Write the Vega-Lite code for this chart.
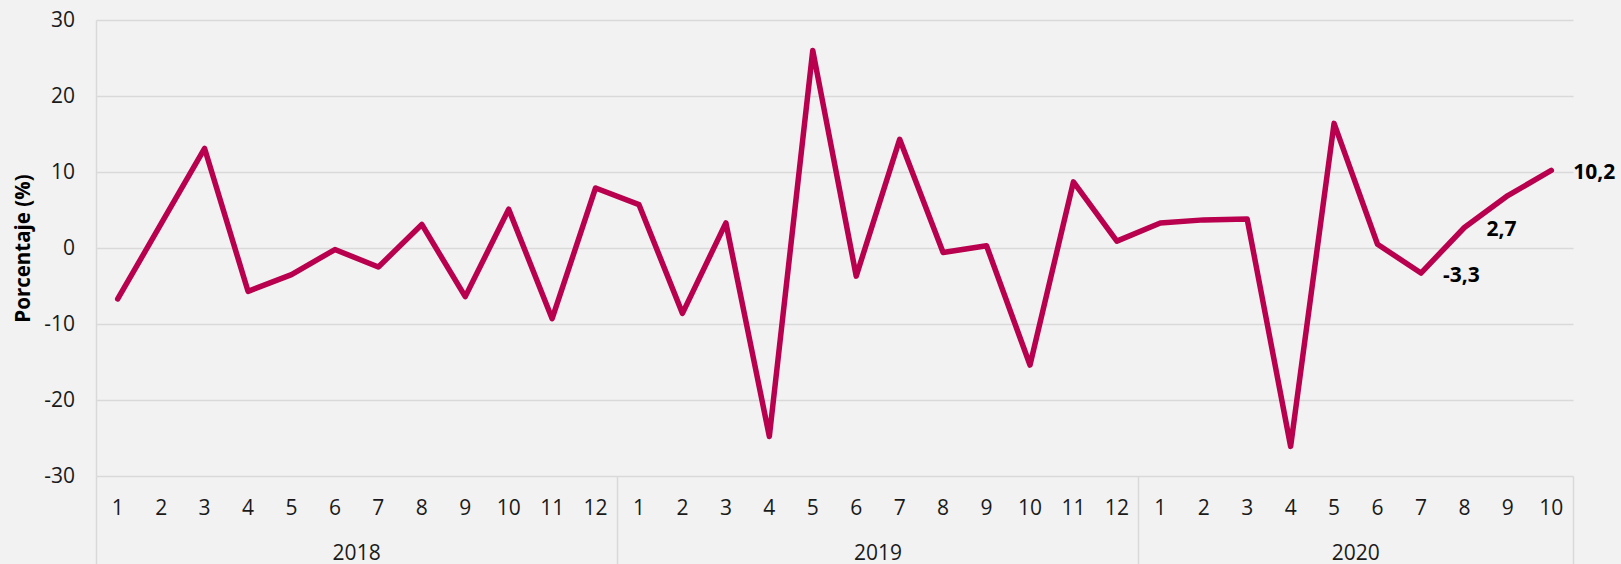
{
  "$schema": "https://vega.github.io/schema/vega-lite/v6.json",
  "autosize": {"type": "none"},
  "padding": {"left": 96, "top": 20, "right": 48, "bottom": 88},
  "width": 1477,
  "height": 456,
  "background": "#f2f2f2",
  "config": {
    "view": {"stroke": null},
    "font": "Open Sans",
    "locale": {"number": {"decimal": ",", "thousands": ".", "grouping": [3], "currency": ["", " €"], "minus": "-"}}
  },
  "data": {
    "values": [
      {"t": "2018-01", "v": -6.7}, {"t": "2018-02", "v": 3.2}, {"t": "2018-03", "v": 13.1},
      {"t": "2018-04", "v": -5.7}, {"t": "2018-05", "v": -3.5}, {"t": "2018-06", "v": -0.2},
      {"t": "2018-07", "v": -2.5}, {"t": "2018-08", "v": 3.1}, {"t": "2018-09", "v": -6.4},
      {"t": "2018-10", "v": 5.1}, {"t": "2018-11", "v": -9.3}, {"t": "2018-12", "v": 7.9},
      {"t": "2019-01", "v": 5.7}, {"t": "2019-02", "v": -8.6}, {"t": "2019-03", "v": 3.3},
      {"t": "2019-04", "v": -24.8}, {"t": "2019-05", "v": 26.0}, {"t": "2019-06", "v": -3.7},
      {"t": "2019-07", "v": 14.3}, {"t": "2019-08", "v": -0.6}, {"t": "2019-09", "v": 0.3},
      {"t": "2019-10", "v": -15.4}, {"t": "2019-11", "v": 8.7}, {"t": "2019-12", "v": 0.9},
      {"t": "2020-01", "v": 3.3}, {"t": "2020-02", "v": 3.7}, {"t": "2020-03", "v": 3.8},
      {"t": "2020-04", "v": -26.1}, {"t": "2020-05", "v": 16.4}, {"t": "2020-06", "v": 0.5},
      {"t": "2020-07", "v": -3.3}, {"t": "2020-08", "v": 2.7}, {"t": "2020-09", "v": 6.9},
      {"t": "2020-10", "v": 10.2}
    ]
  },
  "encoding": {
    "y": {
      "field": "v",
      "type": "quantitative",
      "scale": {"domain": [-30, 30], "nice": false, "zero": false},
      "axis": {
        "values": [-30, -20, -10, 0, 10, 20, 30],
        "title": "Porcentaje (%)",
        "titleFont": "Open Sans",
        "titleFontSize": 20.5,
        "titleFontWeight": "bold",
        "titleColor": "#000000",
        "titlePadding": 10,
        "labelFont": "Open Sans",
        "labelFontSize": 21,
        "labelColor": "#1a1a1a",
        "labelPadding": 21.5,
        "ticks": false,
        "tickSize": 0,
        "domain": true,
        "domainColor": "#d9d9d9",
        "domainWidth": 1.5,
        "grid": true,
        "gridColor": "#d9d9d9",
        "gridWidth": 1.5
      }
    }
  },
  "resolve": {"axis": {"x": "independent"}},
  "layer": [
    {
      "mark": {"type": "line", "color": "#b8004e", "strokeWidth": 5.5, "strokeCap": "round", "strokeJoin": "round"},
      "encoding": {
        "x": {
          "field": "t",
          "type": "ordinal",
          "scale": {"type": "band", "paddingInner": 0, "paddingOuter": 0},
          "axis": {
            "orient": "bottom",
            "title": null,
            "labelExpr": "isString(datum.value) ? '' + toNumber(slice(datum.value, 5)) : ''",
            "labelAngle": 0,
            "labelOverlap": false,
            "labelFont": "Open Sans",
            "labelFontSize": 21,
            "labelColor": "#1a1a1a",
            "labelPadding": 21,
            "ticks": false,
            "tickSize": 0,
            "domain": false,
            "grid": false
          }
        }
      }
    },
    {
      "transform": [{"filter": {"field": "t", "oneOf": ["2020-07", "2020-08", "2020-10"]}}],
      "mark": {"type": "text", "align": "left", "baseline": "middle", "dx": 22, "dy": 3, "font": "Open Sans", "fontSize": 21, "fontWeight": "bold", "color": "#000000"},
      "encoding": {
        "x": {
          "field": "t",
          "type": "ordinal",
          "scale": {"type": "band", "paddingInner": 0, "paddingOuter": 0},
          "axis": {
            "orient": "bottom",
            "title": null,
            "bandPosition": 1,
            "tickExtra": true,
            "labelExpr": "datum.value === '2018-06' ? '2018' : datum.value === '2019-06' ? '2019' : datum.value === '2020-05' ? '2020' : ''",
            "labelAngle": 0,
            "labelOverlap": false,
            "labelOffset": 21.7,
            "labelFont": "Open Sans",
            "labelFontSize": 21,
            "labelColor": "#1a1a1a",
            "labelPadding": -24,
            "ticks": true,
            "tickSize": 90,
            "tickWidth": 1.5,
            "tickColor": {
              "condition": {"test": "datum.extra || datum.value === '2018-12' || datum.value === '2019-12' || datum.value === '2020-10'", "value": "#d9d9d9"},
              "value": "rgba(0,0,0,0)"
            },
            "domain": false,
            "grid": false
          }
        },
        "text": {"field": "v", "type": "quantitative", "format": ".1f"}
      }
    }
  ]
}
